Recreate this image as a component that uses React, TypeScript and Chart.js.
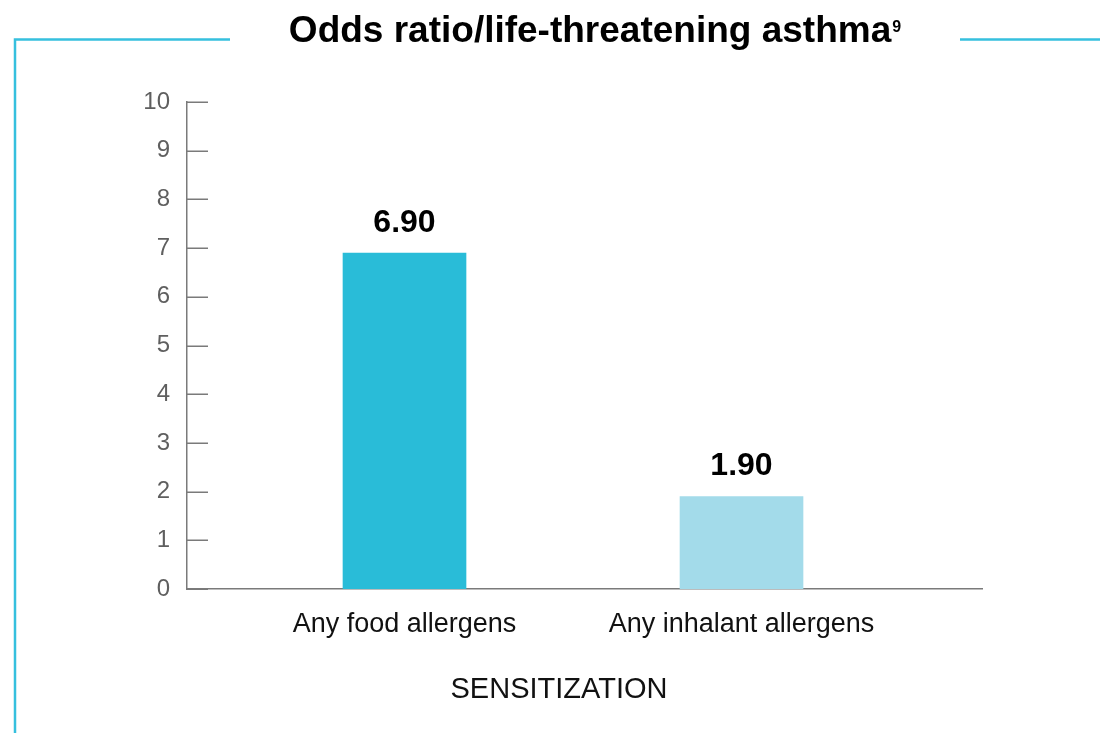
import React, { useEffect, useRef } from "react";
import { Chart, registerables } from "chart.js";

Chart.register(...registerables);

// ---- data ----
const categories = ["Any food allergens", "Any inhalant allergens"];
const categoryPositions = [1, 2];
const oddsRatios = [6.9, 1.9];
const yTickValues = [0, 1, 2, 3, 4, 5, 6, 7, 8, 9, 10];
const titleText = "Odds ratio/life-threatening asthma";
const titleReference = "9";
const axisTitleText = "SENSITIZATION";

// ---- styles ----
const FONT = "'Liberation Sans', Arial, Helvetica, sans-serif";
const barColors = ["#29BCD8", "#A3DBEA"];
const frameColor = "#36C0DE";
const axisColor = "#7a7a7a";

const decorPlugin = {
  id: "decor",
  afterDraw(chart: any) {
    const { ctx, chartArea } = chart;
    const yScale = chart.scales.y;
    ctx.save();

    // frame lines
    ctx.strokeStyle = frameColor;
    ctx.lineWidth = 2.5;
    ctx.beginPath();
    ctx.moveTo(15, 733);
    ctx.lineTo(15, 39.5);
    ctx.lineTo(230, 39.5);
    ctx.moveTo(960, 39.5);
    ctx.lineTo(1100, 39.5);
    ctx.stroke();

    // inward tick marks on the y axis
    ctx.strokeStyle = axisColor;
    ctx.lineWidth = 1.5;
    ctx.beginPath();
    yScale.ticks.forEach((t: any) => {
      const py = Math.round(yScale.getPixelForValue(t.value)) + 0.25;
      ctx.moveTo(chartArea.left, py);
      ctx.lineTo(chartArea.left + 21, py);
    });
    ctx.stroke();

    // title with superscript
    ctx.fillStyle = "#000";
    ctx.font = `bold 37px ${FONT}`;
    ctx.textBaseline = "alphabetic";
    ctx.textAlign = "left";
    const mainW = ctx.measureText(titleText).width;
    ctx.font = `bold 16px ${FONT}`;
    const supW = ctx.measureText(titleReference).width;
    const startX = 595 - (mainW + 1 + supW) / 2;
    ctx.font = `bold 37px ${FONT}`;
    ctx.fillText(titleText, startX, 42);
    ctx.font = `bold 16px ${FONT}`;
    ctx.fillText(titleReference, startX + mainW + 1, 32);

    // value labels
    const meta = chart.getDatasetMeta(0);
    ctx.font = `bold 32px ${FONT}`;
    ctx.textAlign = "center";
    meta.data.forEach((bar: any, i: number) => {
      ctx.fillText(oddsRatios[i].toFixed(2), bar.x, bar.y - 21);
    });

    // axis title
    ctx.font = `29px ${FONT}`;
    ctx.fillStyle = "#111";
    ctx.fillText(axisTitleText, 559, 698);

    ctx.restore();
  },
};

export default function App() {
  const canvasRef = useRef<HTMLCanvasElement | null>(null);

  useEffect(() => {
    document.body.style.margin = "0";
    const canvas = canvasRef.current;
    if (!canvas) return;
    const chart = new Chart(canvas, {
      type: "bar",
      data: {
        datasets: [
          {
            data: categoryPositions.map((x, i) => ({ x, y: oddsRatios[i] })),
            backgroundColor: barColors,
            borderWidth: 0,
            barThickness: 123,
          },
        ],
      },
      options: {
        animation: false,
        responsive: false,
        devicePixelRatio: 1,
        layout: { padding: { top: 102, left: 0, right: 118, bottom: 0 } },
        plugins: {
          legend: { display: false },
          title: { display: false },
          tooltip: { enabled: false },
        },
        scales: {
          x: {
            type: "linear",
            offset: false,
            min: 0.3546,
            max: 2.7136,
            afterBuildTicks: (scale: any) => {
              scale.ticks = categoryPositions.map((v) => ({ value: v }));
            },
            afterFit: (scale: any) => {
              scale.height = 144;
            },
            grid: { display: false, drawTicks: false, offset: false },
            border: { display: true, color: axisColor, width: 1.5 },
            ticks: {
              padding: 19,
              color: "#111",
              font: { family: FONT, size: 27 },
              maxRotation: 0,
              autoSkip: false,
              callback: (value: any) => {
                const idx = categoryPositions.indexOf(Number(value));
                return idx >= 0 ? categories[idx] : "";
              },
            },
          },
          y: {
            min: 0,
            max: 10,
            afterBuildTicks: (scale: any) => {
              scale.ticks = yTickValues.map((v) => ({ value: v }));
            },
            afterFit: (scale: any) => {
              scale.width = 187;
            },
            grid: { display: false, drawTicks: false },
            border: { display: true, color: axisColor, width: 1.5 },
            ticks: {
              padding: 17,
              color: "#5f5f5f",
              font: { family: FONT, size: 24 },
            },
          },
        },
      },
      plugins: [decorPlugin],
    });
    return () => chart.destroy();
  }, []);

  return (
    <div style={{ position: "absolute", left: 0, top: 0, width: 1100, height: 733, background: "#fff" }}>
      <canvas ref={canvasRef} width={1100} height={733} />
    </div>
  );
}
